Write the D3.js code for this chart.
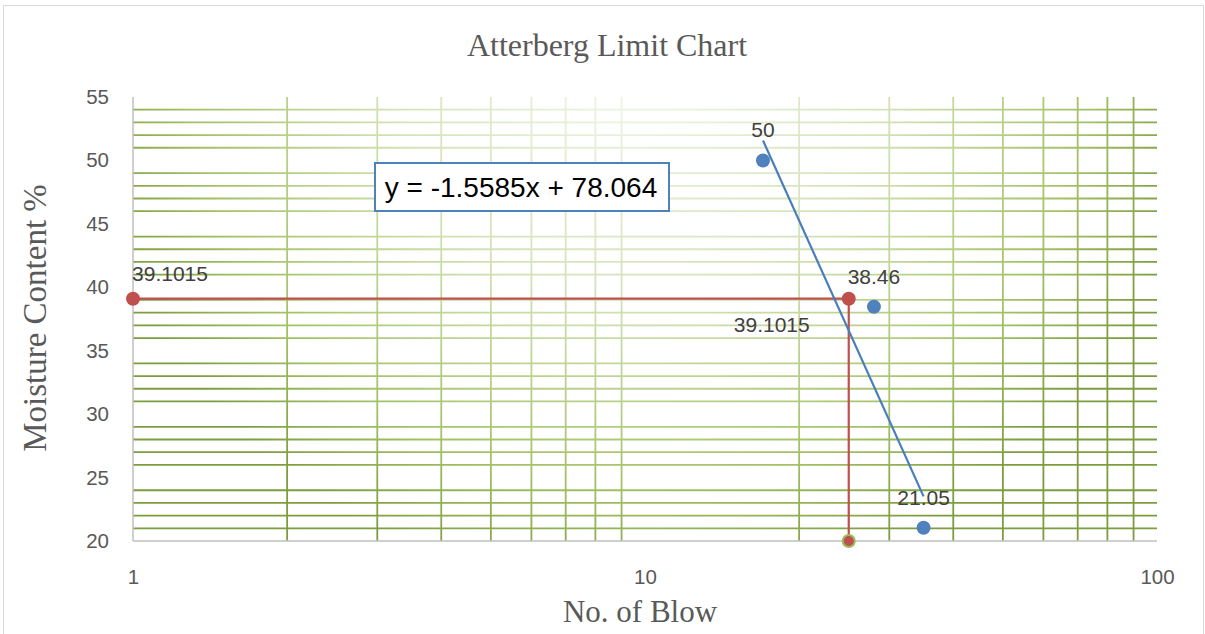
<!DOCTYPE html>
<html>
<head>
<meta charset="utf-8">
<script src="https://cdn.jsdelivr.net/npm/d3@7"></script>
<style>
  body { margin: 0; background: #fff; }
  svg { display: block; }
</style>
</head>
<body>
<svg id="chart"></svg>
<script>
var svgWidth = 1205;
var svgHeight = 634;

/* data */
var blows = [17, 28, 35];
var moisture = [50, 38.46, 21.05];
var llBlows = [1, 25, 25];
var llMoisture = [39.1015, 39.1015, 20];
var trendSlope = -1.5585;
var trendIntercept = 78.064;
var yTicks = [20, 25, 30, 35, 40, 45, 50, 55];
var xTicks = [1, 10, 100];

var plot = { left: 133, right: 1157, top: 97, bottom: 541 };
var labelFont = '"Liberation Sans", Arial, sans-serif';
var serifFont = '"Liberation Serif", "Times New Roman", serif';

var svg = d3.select('#chart')
    .attr('width', svgWidth)
    .attr('height', svgHeight);

var x = d3.scaleLog().domain([1, 100]).range([plot.left, plot.right]);
var y = d3.scaleLinear().domain([20, 55]).range([plot.bottom, plot.top]);

/* outer chart border */
svg.append('rect')
    .attr('x', 3.5).attr('y', 5.5)
    .attr('width', svgWidth - 5).attr('height', svgHeight + 10)
    .attr('fill', 'none')
    .attr('stroke', '#d9d9d9');

/* gridline gradient: light near top middle, green towards edges and bottom */
var defs = svg.append('defs');
var grad = defs.append('radialGradient')
    .attr('id', 'gridGrad')
    .attr('gradientUnits', 'userSpaceOnUse')
    .attr('cx', 640).attr('cy', 60).attr('r', 560)
    .attr('gradientTransform', 'translate(640,60) scale(1,0.95) translate(-640,-60)');
grad.append('stop').attr('offset', '0%').attr('stop-color', '#f3f7ec');
grad.append('stop').attr('offset', '45%').attr('stop-color', '#d3e2b6');
grad.append('stop').attr('offset', '80%').attr('stop-color', '#a3c165');
grad.append('stop').attr('offset', '100%').attr('stop-color', '#7d9c3e');

/* minor gridlines only (Excel: major hidden) */
var minorY = d3.range(20, 55).filter(d => d % 5 !== 0);
var minorX = [];
[1, 10].forEach(dec => d3.range(2, 10).forEach(m => minorX.push(dec * m)));

var grid = svg.append('g').attr('class', 'grid');
grid.selectAll('line.h')
    .data(minorY)
    .enter()
    .append('line')
    .attr('class', 'h')
    .attr('x1', plot.left).attr('x2', plot.right)
    .attr('y1', d => y(d)).attr('y2', d => y(d))
    .attr('stroke', 'url(#gridGrad)')
    .attr('stroke-width', 1.8);

grid.selectAll('line.v')
    .data(minorX)
    .enter()
    .append('line')
    .attr('class', 'v')
    .attr('x1', d => x(d)).attr('x2', d => x(d))
    .attr('y1', plot.top).attr('y2', plot.bottom)
    .attr('stroke', 'url(#gridGrad)')
    .attr('stroke-width', 1.8);

/* axis lines */
svg.append('line')
    .attr('x1', plot.left).attr('x2', plot.left)
    .attr('y1', plot.top).attr('y2', plot.bottom)
    .attr('stroke', '#bfbfbf').attr('stroke-width', 1.5);
svg.append('line')
    .attr('x1', plot.left).attr('x2', plot.right)
    .attr('y1', plot.bottom).attr('y2', plot.bottom)
    .attr('stroke', '#bfbfbf').attr('stroke-width', 1.5);

/* tick labels */
var yAxis = svg.append('g')
    .attr('transform', `translate(${plot.left},0)`)
    .call(d3.axisLeft(y).tickValues(yTicks).tickSize(0).tickPadding(24));
var xAxis = svg.append('g')
    .attr('transform', `translate(0,${plot.bottom})`)
    .call(d3.axisBottom(x).tickValues(xTicks).tickSize(0).tickPadding(28).tickFormat(d3.format('d')));
[yAxis, xAxis].forEach(ax => {
    ax.select('.domain').remove();
    ax.selectAll('text')
        .style('font-family', labelFont)
        .style('font-size', '20.5px')
        .attr('fill', '#595959');
});

/* liquid limit construction line */
var llLine = d3.line()
    .x((d, i) => x(llBlows[i]))
    .y(d => y(d));
svg.append('path')
    .attr('d', llLine(llMoisture))
    .attr('fill', 'none')
    .attr('stroke', '#c0504d')
    .attr('stroke-width', 2.2);

/* linear trendline, drawn as Excel does between first and last x */
var trendX = [d3.min(blows), d3.max(blows)];
svg.append('line')
    .attr('x1', x(trendX[0])).attr('y1', y(trendSlope * trendX[0] + trendIntercept))
    .attr('x2', x(trendX[1])).attr('y2', y(trendSlope * trendX[1] + trendIntercept))
    .attr('stroke', '#4a7ebb')
    .attr('stroke-width', 2.2);

/* markers */
svg.selectAll('circle.ll')
    .data(llMoisture)
    .enter()
    .append('circle')
    .attr('class', 'll')
    .attr('cx', (d, i) => x(llBlows[i]))
    .attr('cy', d => y(d))
    .attr('r', (d, i) => i === 2 ? 6 : 7)
    .attr('fill', '#c0504d')
    .attr('stroke', (d, i) => i === 2 ? '#9bbb59' : 'none')
    .attr('stroke-width', 2);

svg.selectAll('circle.pt')
    .data(moisture)
    .enter()
    .append('circle')
    .attr('class', 'pt')
    .attr('cx', (d, i) => x(blows[i]))
    .attr('cy', d => y(d))
    .attr('r', 7)
    .attr('fill', '#4f81bd');

/* data labels */
svg.selectAll('text.pt')
    .data(moisture)
    .enter()
    .append('text')
    .attr('class', 'pt')
    .attr('x', (d, i) => x(blows[i]))
    .attr('y', d => y(d) - 23)
    .attr('text-anchor', 'middle')
    .style('font-family', labelFont)
    .style('font-size', '21px')
    .attr('fill', '#404040')
    .text(d => d);

var llLabelOffset = [{ dx: 37, dy: -18 }, { dx: -77, dy: 33 }];
svg.selectAll('text.ll')
    .data(llMoisture.slice(0, 2))
    .enter()
    .append('text')
    .attr('class', 'll')
    .attr('x', (d, i) => x(llBlows[i]) + llLabelOffset[i].dx)
    .attr('y', d => y(d))
    .attr('dy', (d, i) => llLabelOffset[i].dy)
    .attr('text-anchor', 'middle')
    .style('font-family', labelFont)
    .style('font-size', '21px')
    .attr('fill', '#404040')
    .text(d => d);

/* trendline equation box */
var eq = svg.append('g').attr('transform', 'translate(375,163)');
eq.append('rect')
    .attr('width', 294).attr('height', 48)
    .attr('fill', '#fff')
    .attr('stroke', '#4f81bd')
    .attr('stroke-width', 2);
eq.append('text')
    .attr('x', 146).attr('y', 34)
    .attr('text-anchor', 'middle')
    .style('font-family', labelFont)
    .style('font-size', '28px')
    .attr('fill', '#000')
    .text(`y = ${trendSlope}x + ${trendIntercept}`);

/* titles */
svg.append('text')
    .attr('x', 607).attr('y', 56)
    .attr('text-anchor', 'middle')
    .style('font-family', serifFont)
    .style('font-size', '32px')
    .attr('fill', '#595959')
    .text('Atterberg Limit Chart');

svg.append('text')
    .attr('x', 640).attr('y', 622)
    .attr('text-anchor', 'middle')
    .style('font-family', serifFont)
    .style('font-size', '31px')
    .attr('fill', '#595959')
    .text('No. of Blow');

svg.append('text')
    .attr('transform', 'translate(46,318) rotate(-90)')
    .attr('text-anchor', 'middle')
    .style('font-family', serifFont)
    .style('font-size', '33px')
    .attr('fill', '#595959')
    .text('Moisture Content %');
</script>
</body>
</html>
